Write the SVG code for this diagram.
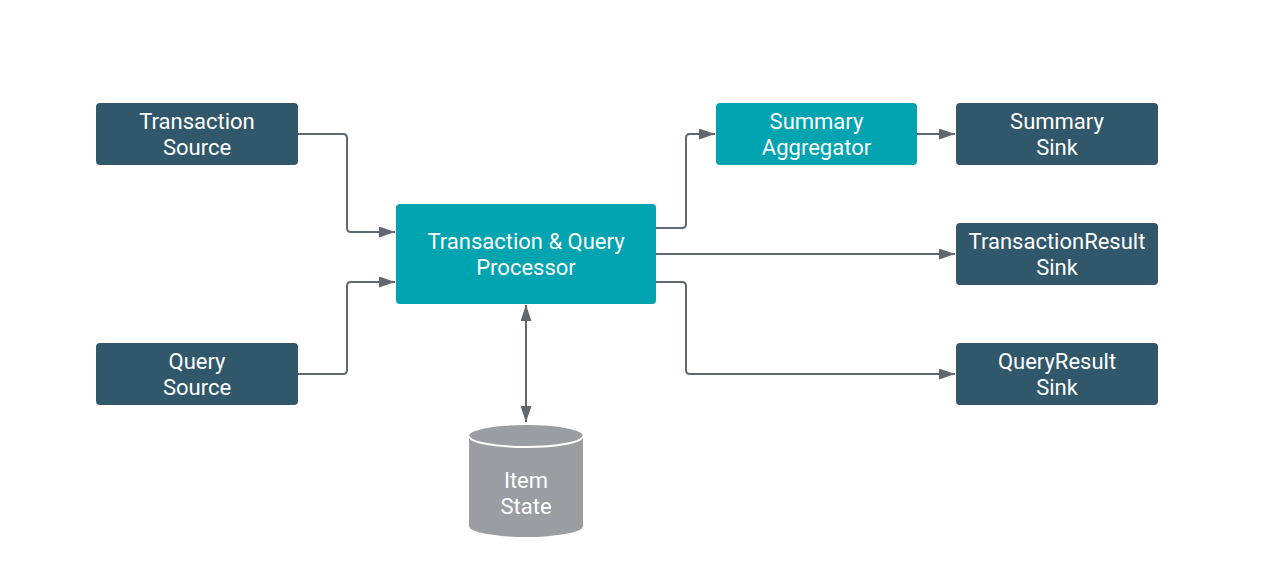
<svg xmlns="http://www.w3.org/2000/svg" width="1267" height="581" viewBox="0 0 1267 581">
<style>
.dark{fill:#31576A}
.teal{fill:#00A3B0}
.t{font-family:Roboto,"Liberation Sans",sans-serif;font-size:22px;fill:#fff;text-anchor:middle}
.c{fill:none;stroke:#5F6770;stroke-width:2;stroke-linejoin:round}
</style>
<defs>
<marker id="ah" viewBox="0 0 16 11" refX="16" refY="5.5" markerWidth="16" markerHeight="11" markerUnits="userSpaceOnUse" orient="auto-start-reverse">
<path d="M0,0 L16,5.5 L0,11 z" fill="#5F6770"/>
</marker>
</defs>
<rect width="1267" height="581" fill="#fff"/>
<g id="connectors">
<path class="c" d="M298,134 H343 Q347,134 347,138 V228 Q347,232 351,232 H395" marker-end="url(#ah)"/>
<path class="c" d="M298,374 H343 Q347,374 347,370 V286 Q347,282 351,282 H395" marker-end="url(#ah)"/>
<path class="c" d="M656,228 H682 Q686,228 686,224 V138 Q686,134 690,134 H715" marker-end="url(#ah)"/>
<path class="c" d="M917,134 H955" marker-end="url(#ah)"/>
<path class="c" d="M656,254 H955" marker-end="url(#ah)"/>
<path class="c" d="M656,282 H682 Q686,282 686,286 V370 Q686,374 690,374 H955" marker-end="url(#ah)"/>
<path class="c" d="M526,305 V422" marker-start="url(#ah)" marker-end="url(#ah)"/>
</g>
<g id="transaction-source">
<rect class="dark" x="96" y="103" width="202" height="62" rx="4"/>
<text class="t" x="197" y="129">Transaction</text>
<text class="t" x="197" y="155">Source</text>
</g>
<g id="query-source">
<rect class="dark" x="96" y="343" width="202" height="62" rx="4"/>
<text class="t" x="197" y="369">Query</text>
<text class="t" x="197" y="395">Source</text>
</g>
<g id="processor">
<rect class="teal" x="396" y="204" width="260" height="100" rx="4"/>
<text class="t" x="526" y="249">Transaction &amp; Query</text>
<text class="t" x="526" y="275">Processor</text>
</g>
<g id="summary-aggregator">
<rect class="teal" x="716" y="103" width="201" height="62" rx="4"/>
<text class="t" x="816.500" y="129">Summary</text>
<text class="t" x="816.500" y="155">Aggregator</text>
</g>
<g id="summary-sink">
<rect class="dark" x="956" y="103" width="202" height="62" rx="4"/>
<text class="t" x="1057" y="129">Summary</text>
<text class="t" x="1057" y="155">Sink</text>
</g>
<g id="transactionresult-sink">
<rect class="dark" x="956" y="223" width="202" height="62" rx="4"/>
<text class="t" x="1057" y="249">TransactionResult</text>
<text class="t" x="1057" y="275">Sink</text>
</g>
<g id="queryresult-sink">
<rect class="dark" x="956" y="343" width="202" height="62" rx="4"/>
<text class="t" x="1057" y="369">QueryResult</text>
<text class="t" x="1057" y="395">Sink</text>
</g>
<g id="item-state">
<path d="M469,436 A57,11 0 0 1 583,436 V526 A57,11 0 0 1 469,526 Z" fill="#9A9EA3"/>
<path d="M469,436 A57,11 0 0 0 583,436" fill="none" stroke="#fff" stroke-width="2"/>
<text class="t" x="526" y="488">Item</text>
<text class="t" x="526" y="514">State</text>
</g>
</svg>
